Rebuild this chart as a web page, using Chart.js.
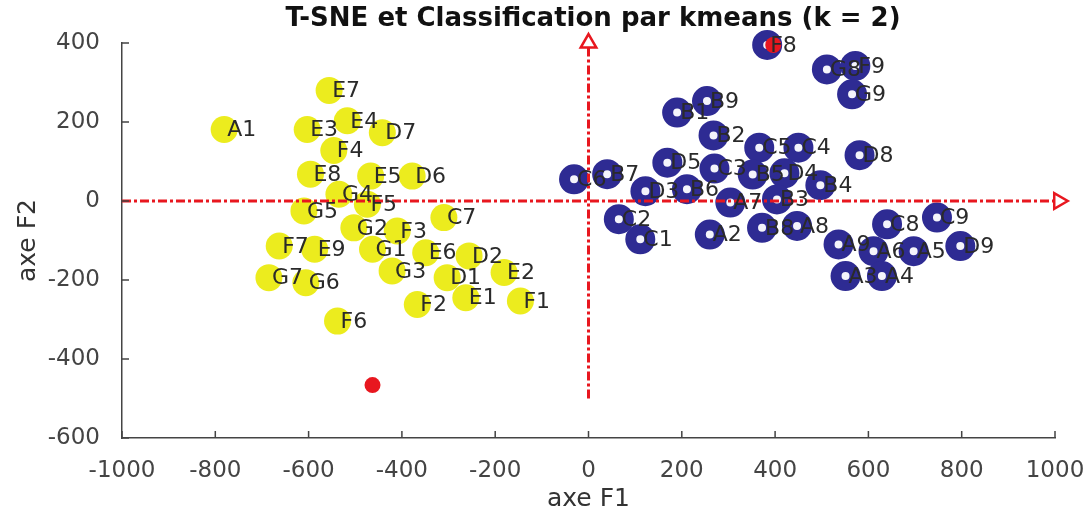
<!DOCTYPE html>
<html>
<head>
<meta charset="utf-8">
<script src="https://cdn.jsdelivr.net/npm/chart.js@4"></script>
<style>
  body { margin: 0; background: #fff; }
  canvas { display: block; }
</style>
</head>
<body>
<canvas id="chart" width="1090" height="514"></canvas>
<script>
// --- Datos ---
const titulo = 'T-SNE et Classification par kmeans (k = 2)';
const xTicks = [-1000, -800, -600, -400, -200, 0, 200, 400, 600, 800, 1000];
const yTicks = [-600, -400, -200, 0, 200, 400];

// Grupo 1 (amarillo)
const amarilloLabels = ['A1','E7','E3','E4','D7','F4','E8','E5','D6','G4','G5','F5','C7','G2','F3','F7','E9','G1','E6','D2','E2','G3','D1','G7','G6','F2','E1','F1','F6'];
const amarilloX = [-781,-556,-603,-517,-442,-546,-596,-467,-378,-535,-610,-474,-310,-503,-410,-663,-587,-463,-349,-256,-181,-421,-303,-685,-606,-367,-263,-146,-538];
const amarilloY = [181,280,181,203,173,128,68,63,63,17,-25,-8,-42,-68,-76,-114,-122,-122,-131,-139,-181,-177,-194,-194,-207,-262,-245,-253,-304];

// Grupo 2 (azul)
const azulLabels = ['F8','G8','F9','G9','B9','B1','B2','C5','C4','D8','D5','C3','B5','D4','B4','C6','B7','D3','B6','A7','B3','C2','C1','A2','B8','A8','C8','C9','A9','A6','A5','D9','A3','A4'];
const azulX = [383,511,572,565,254,190,268,366,450,581,169,270,352,420,497,-31,40,122,211,304,404,65,111,260,372,447,640,747,536,611,697,797,551,629];
const azulY = [395,333,342,270,253,224,166,135,135,116,97,82,67,70,40,55,68,25,30,-4,4,-46,-97,-85,-68,-63,-59,-42,-110,-127,-127,-114,-190,-190];

// Centroides (rojo)
const centroX = [-463, 396];
const centroY = [-466, 395];

// Ejes con flecha
const ejeHX = [-1000, 1008];
const ejeHY = [0, 0];
const ejeVX = [0, 0];
const ejeVY = [-500, 400];

const toPts = (xs, ys) => xs.map((x, i) => ({ x: x, y: ys[i] }));

const rojo = '#e8171f';
const gris = '#444444';
const fuente = "'DejaVu Sans', sans-serif";

// Plugin: título, marcas hacia dentro, títulos de ejes y etiquetas de puntos
const decoracion = {
    id: 'decoracion',
    afterDraw(chart) {
        const ctx = chart.ctx;
        const area = chart.chartArea;
        const sx = chart.scales.x;
        const sy = chart.scales.y;
        ctx.save();

        // marcas hacia dentro (estilo MATLAB)
        ctx.strokeStyle = gris;
        ctx.lineWidth = 1.5;
        ctx.beginPath();
        xTicks.forEach(v => {
            const px = sx.getPixelForValue(v);
            ctx.moveTo(px, area.bottom);
            ctx.lineTo(px, area.bottom - 7);
        });
        yTicks.forEach(v => {
            const py = sy.getPixelForValue(v);
            ctx.moveTo(area.left, py);
            ctx.lineTo(area.left + 7, py);
        });
        ctx.stroke();

        // etiquetas de los puntos
        ctx.fillStyle = '#2a2a2a';
        ctx.font = '22px ' + fuente;
        ctx.textAlign = 'left';
        ctx.textBaseline = 'middle';
        amarilloLabels.forEach((t, i) => {
            ctx.fillText(t, sx.getPixelForValue(amarilloX[i]) + 3, sy.getPixelForValue(amarilloY[i]) + 1);
        });
        azulLabels.forEach((t, i) => {
            ctx.fillText(t, sx.getPixelForValue(azulX[i]) + 3, sy.getPixelForValue(azulY[i]) + 1);
        });

        // título
        ctx.fillStyle = '#111';
        ctx.font = 'bold 26px ' + fuente;
        ctx.textAlign = 'center';
        ctx.fillText(titulo, 593, 19);

        // títulos de ejes
        ctx.fillStyle = '#333';
        ctx.font = '25px ' + fuente;
        ctx.fillText('axe F1', (area.left + area.right) / 2, 499);
        ctx.translate(28, (area.top + area.bottom) / 2);
        ctx.rotate(-Math.PI / 2);
        ctx.fillText('axe F2', 0, 0);
        ctx.restore();
    }
};

new Chart(document.getElementById('chart'), {
    type: 'scatter',
    data: {
        datasets: [
            {
                label: 'centroides',
                data: toPts(centroX, centroY),
                backgroundColor: rojo,
                borderColor: rojo,
                pointRadius: 8,
                borderWidth: 0,
                clip: false,
                order: 0
            },
            {
                label: 'axe horizontal',
                data: toPts(ejeHX, ejeHY),
                showLine: true,
                borderColor: rojo,
                borderWidth: 3,
                borderDash: [9, 3, 3, 3],
                pointStyle: 'triangle',
                pointRadius: [0, 9],
                pointRotation: 90,
                pointBorderColor: rojo,
                pointBorderWidth: 2.5,
                pointBackgroundColor: '#fff',
                clip: false,
                order: 1
            },
            {
                label: 'axe vertical',
                data: toPts(ejeVX, ejeVY),
                showLine: true,
                borderColor: rojo,
                borderWidth: 3,
                borderDash: [9, 3, 3, 3],
                pointStyle: 'triangle',
                pointRadius: [0, 9],
                pointRotation: 0,
                pointBorderColor: rojo,
                pointBorderWidth: 2.5,
                pointBackgroundColor: '#fff',
                clip: false,
                order: 2
            },
            {
                label: 'classe 2',
                data: toPts(azulX, azulY),
                pointRadius: 9.5,
                borderWidth: 11,
                borderColor: '#2e2b93',
                backgroundColor: '#f4f4fb',
                clip: false,
                order: 3
            },
            {
                label: 'classe 1',
                data: toPts(amarilloX, amarilloY),
                pointRadius: 13.5,
                borderWidth: 0,
                backgroundColor: '#ecec1e',
                clip: false,
                order: 4
            }
        ]
    },
    options: {
        responsive: false,
        animation: false,
        events: [],
        layout: { padding: { top: 43, right: 35, bottom: 0, left: 0 } },
        plugins: {
            legend: { display: false },
            title: { display: false },
            tooltip: { enabled: false }
        },
        scales: {
            x: {
                type: 'linear',
                min: -1000,
                max: 1000,
                afterBuildTicks: (scale) => { scale.ticks = xTicks.map(v => ({ value: v })); },
                afterFit: (scale) => {
                    scale.height = 76;
                    scale.paddingLeft = 0;
                    scale.paddingRight = 0;
                },
                grid: { display: false },
                border: { display: true, color: gris, width: 1.5 },
                ticks: {
                    color: gris,
                    font: { size: 23, family: fuente },
                    padding: 11,
                    maxRotation: 0,
                    autoSkip: false,
                    callback: (v) => String(v)
                }
            },
            y: {
                type: 'linear',
                min: -600,
                max: 400,
                afterBuildTicks: (scale) => { scale.ticks = yTicks.map(v => ({ value: v })); },
                afterFit: (scale) => {
                    scale.width = 122;
                    scale.paddingTop = 0;
                    scale.paddingBottom = 0;
                },
                grid: { display: false },
                border: { display: true, color: gris, width: 1.5 },
                ticks: {
                    color: gris,
                    font: { size: 23, family: fuente },
                    padding: 14,
                    callback: (v) => String(v)
                }
            }
        }
    },
    plugins: [decoracion]
});
</script>
</body>
</html>
